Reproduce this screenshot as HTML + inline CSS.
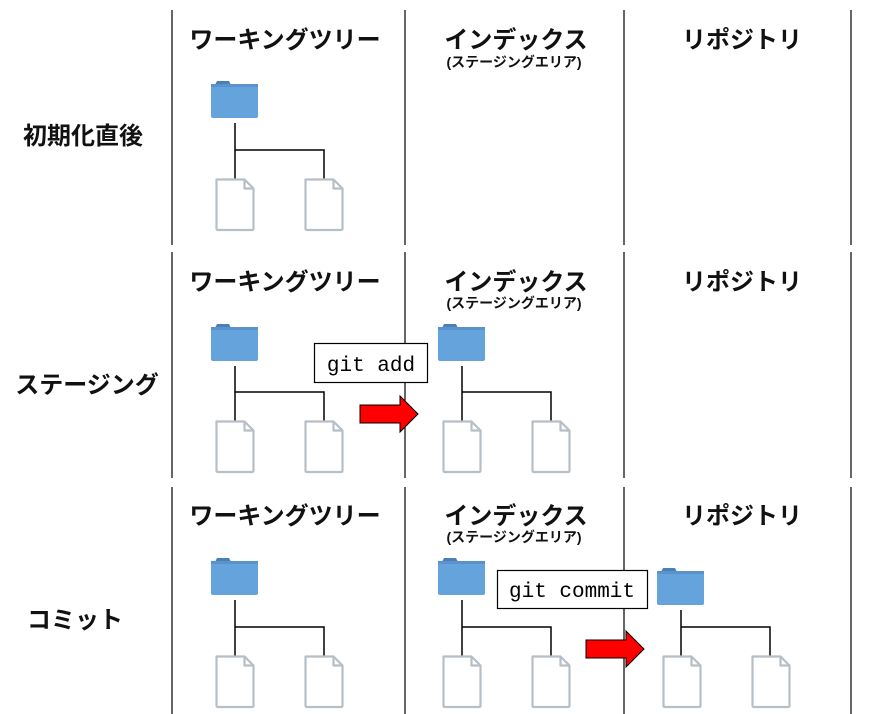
<!DOCTYPE html>
<html><head><meta charset="utf-8"><style>
html,body{margin:0;padding:0;background:#fff;width:874px;height:714px;overflow:hidden}
svg text{font-family:"Liberation Sans","Noto Sans CJK JP",sans-serif;font-weight:bold;fill:#111}
.mono{font-family:"Liberation Mono","DejaVu Sans Mono",monospace;font-weight:normal;fill:#000}
</style></head><body>
<svg width="874" height="714" xmlns="http://www.w3.org/2000/svg">
<defs>
<g id="folder">
  <path d="M6 0 h12 l2 4 h-16 z" fill="#4a7fb8"/>
  <rect x="0" y="3" width="47" height="34" rx="2" fill="#65a3dc"/>
  <rect x="0" y="3" width="47" height="3" fill="#5a93cc"/>
</g>
<g id="file">
  <path d="M1.5 1.5 h28 l9 9 v40 q0 1.5 -1.5 1.5 h-34 q-1.5 0 -1.5 -1.5 z" fill="#fff" stroke="#b6bec6" stroke-width="2.2" stroke-linejoin="round"/>
  <path d="M29.5 1.5 v9 h9" fill="none" stroke="#b6bec6" stroke-width="2.2" stroke-linejoin="round"/>
</g>
<g id="arrow">
  <path d="M0 9 h40 v-9 l18 18 l-18 18 v-9 h-40 z" fill="#f00" stroke="#000" stroke-width="1"/>
</g>
</defs>

<g stroke="#000" stroke-width="1.2">
  <line x1="172" y1="10" x2="172" y2="245"/><line x1="405" y1="10" x2="405" y2="245"/>
  <line x1="624" y1="10" x2="624" y2="245"/><line x1="851" y1="10" x2="851" y2="245"/>
  <line x1="172" y1="252" x2="172" y2="478"/><line x1="405" y1="252" x2="405" y2="478"/>
  <line x1="624" y1="252" x2="624" y2="478"/><line x1="851" y1="252" x2="851" y2="478"/>
  <line x1="172" y1="487" x2="172" y2="714"/><line x1="405" y1="487" x2="405" y2="714"/>
  <line x1="624" y1="487" x2="624" y2="714"/><line x1="851" y1="487" x2="851" y2="714"/>
</g>

<g font-size="24" text-anchor="middle">
  <text x="285" y="48">ワーキングツリー</text><text x="516" y="48">インデックス</text><text x="742" y="48">リポジトリ</text>
  <text x="285" y="290">ワーキングツリー</text><text x="516" y="290">インデックス</text><text x="742" y="290">リポジトリ</text>
  <text x="285" y="524">ワーキングツリー</text><text x="516" y="524">インデックス</text><text x="742" y="524">リポジトリ</text>
  <text x="83" y="144">初期化直後</text>
  <text x="87" y="393">ステージング</text>
  <text x="75" y="628">コミット</text>
</g>
<g font-size="14" text-anchor="middle">
  <text x="514" y="67">(ステージングエリア)</text>
  <text x="514" y="308">(ステージングエリア)</text>
  <text x="514" y="542">(ステージングエリア)</text>
</g>

<g stroke="#000" stroke-width="1.5" fill="none">
  <path d="M235 123 V180 M235 150 H324 V180"/>
  <path d="M235 366 V422 M235 392 H324 V422"/>
  <path d="M462 366 V422 M462 392 H551 V422"/>
  <path d="M235 600 V657 M235 627 H324 V657"/>
  <path d="M462 600 V657 M462 627 H551 V657"/>
  <path d="M681 610 V657 M681 627 H770 V657"/>
</g>
<use href="#folder" x="211" y="81"/>
<use href="#file" x="215" y="178"/><use href="#file" x="304" y="178"/>
<use href="#folder" x="211" y="324"/>
<use href="#file" x="215" y="420"/><use href="#file" x="304" y="420"/>
<use href="#folder" x="438" y="324"/>
<use href="#file" x="442" y="420"/><use href="#file" x="531" y="420"/>
<use href="#folder" x="211" y="558"/>
<use href="#file" x="215" y="655"/><use href="#file" x="304" y="655"/>
<use href="#folder" x="438" y="558"/>
<use href="#file" x="442" y="655"/><use href="#file" x="531" y="655"/>
<use href="#folder" x="657" y="568"/>
<use href="#file" x="662" y="655"/><use href="#file" x="751" y="655"/>

<rect x="314.5" y="343.5" width="113" height="39" fill="#fff" stroke="#000" stroke-width="1.2"/>
<text class="mono" x="371" y="371" font-size="21" text-anchor="middle">git add</text>
<use href="#arrow" x="360" y="396"/>
<rect x="497.5" y="570.5" width="150" height="38" fill="#fff" stroke="#000" stroke-width="1.2"/>
<text class="mono" x="572" y="597" font-size="21" text-anchor="middle">git commit</text>
<use href="#arrow" x="586" y="631"/>
</svg>
</body></html>
